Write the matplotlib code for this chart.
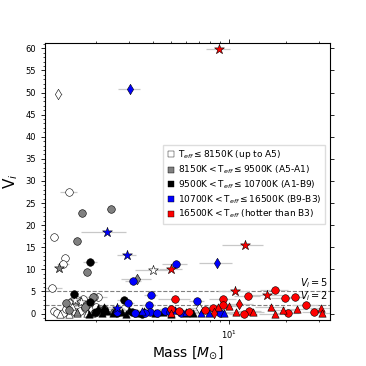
import numpy as np
import matplotlib.pyplot as plt
from matplotlib.lines import Line2D

# class 0: Teff <= 8150K (white)
c0_mass = [1.45, 1.21, 1.38, 1.35, 1.18, 2.05, 1.95, 1.72, 1.60, 1.50, 1.45, 1.20, 1.25, 1.35,
           1.55, 1.65, 1.75, 1.90, 2.00, 1.40, 1.30, 1.45, 1.60, 1.80, 1.50, 4.0, 1.55, 1.68, 1.27, 7.0]
c0_v = [27.5, 17.2, 12.5, 11.1, 5.8, 3.7, 3.7, 3.2, 3.0, 2.9, 2.3, 0.5, 0.1, 0.2,
        0.3, 0.6, 1.2, 0.8, 1.5, 1.0, 0.0, -0.1, 0.1, 0.2, 1.7, 9.8, 3.1, 2.6, 49.6, 1.2]
c0_err = [0.15, 0.05, 0.05, 0.1, 0.15, 0.25, 0.15, 0.1, 0.1, 0.1, 0.1, 0.05, 0.05, 0.05,
          0.05, 0.05, 0.1, 0.1, 0.1, 0.05, 0.05, 0.05, 0.05, 0.1, 0.1, 0.8, 0.1, 0.1, 0.05, 0.8]
c0_mk = ['o'] * 20 + ['^'] * 5 + ['*'] * 3 + ['d'] * 2

# class 1: 8150K < Teff <= 9500K (grey)
c1_mass = [1.69, 2.40, 1.60, 1.79, 1.94, 1.39, 1.45, 1.75, 2.20, 2.50, 1.28, 3.30, 1.60, 1.90]
c1_v = [22.8, 23.6, 16.3, 9.3, 3.7, 2.3, 0.7, 1.5, 1.0, 0.3, 10.2, 7.9, 0.3, 0.2]
c1_err = [0.05, 0.1, 0.05, 0.05, 0.1, 0.05, 0.05, 0.1, 0.1, 0.1, 0.05, 0.6, 0.05, 0.1]
c1_mk = ['o'] * 10 + ['*', 'd', '^', '^']

# class 2: 9500K < Teff <= 10700K (black)
c2_mass = [1.87, 1.54, 2.80, 1.87, 2.20, 2.60, 3.10, 3.50, 2.00,
           1.85, 1.95, 2.05, 2.15, 2.30, 2.45, 2.55, 2.75, 2.90, 3.00, 3.30, 3.60, 4.10,
           4.50, 5.00, 2.20, 6.00, 6.50]
c2_v = [11.7, 4.5, 3.1, 2.5, 0.6, 0.2, 0.3, 0.0, 0.3,
        0.0, 0.4, 1.2, 0.2, 0.6, 0.1, 1.0, 0.3, 0.0, 0.8, 0.2, 0.5, 0.1,
        0.3, 0.0, 1.5, 0.2, 0.1]
c2_err = [0.15, 0.05, 0.2, 0.1, 0.2, 0.2, 0.3, 0.3, 0.2,
          0.2, 0.2, 0.2, 0.3, 0.3, 0.3, 0.3, 0.4, 0.4, 0.4, 0.5, 0.5, 0.6,
          0.6, 0.7, 0.2, 0.8, 0.8]
c2_mk = ['o'] * 9 + ['^'] * 18

# class 3: 10700K < Teff <= 16500K (blue)
c3_mass = [3.01, 8.67, 2.28, 2.92, 2.60,
           5.27, 3.15, 3.90, 6.80, 3.80, 2.97, 2.59, 3.86, 4.20, 4.63, 3.63, 9.00, 5.60, 3.20, 4.90,
           6.00, 7.20, 7.90, 9.50, 3.50, 5.20]
c3_v = [50.7, 11.4, 18.5, 13.2, 1.3,
        11.2, 7.3, 4.1, 2.9, 2.0, 2.4, 0.45, 0.45, 0.1, 0.6, 0.1, 0.1, 0.2, 0.2, 0.3,
        0.45, 0.2, 0.15, 0.15, 0.6, 0.9]
c3_err = [0.4, 1.7, 0.6, 0.35, 0.2,
          0.8, 0.3, 0.3, 0.6, 0.3, 0.2, 0.2, 0.3, 0.4, 0.5, 0.3, 1.0, 0.6, 0.3, 0.5,
          0.7, 0.8, 0.9, 1.0, 0.3, 0.6]
c3_mk = ['d', 'd', '*', '*', '*'] + ['o'] * 15 + ['^'] * 6

# class 4: 16500K < Teff (red)
c4_mass = [8.9, 12.2, 4.98, 10.8, 16.0,
           17.6, 12.7, 19.8, 22.3, 25.7, 9.4, 9.4, 5.25, 8.3, 7.5, 12.8, 12.1, 20.6, 28.3,
           4.98, 6.2, 5.5,
           16.8, 17.5, 19.4, 23.0, 30.8, 30.9, 13.4, 11.0, 10.0, 8.8, 4.98,
           11.4, 8.4]
c4_v = [59.8, 15.5, 10.1, 5.0, 4.2,
        5.4, 4.0, 3.6, 3.8, 2.0, 3.2, 2.0, 3.3, 1.3, 0.7, 0.6, 0.0, 0.15, 0.45,
        1.0, 0.4, 0.5,
        1.5, 0.0, 0.8, 1.1, 1.2, 0.2, 0.3, 0.3, 1.8, 1.5, 0.1,
        2.2, 0.2]
c4_err = [1.3, 3.0, 0.7, 2.0, 3.0,
          3.0, 2.0, 3.0, 3.0, 4.0, 1.5, 1.5, 1.0, 1.0, 1.0, 2.0, 2.0, 3.0, 4.0,
          0.7, 1.0, 0.8,
          3.0, 3.0, 3.0, 3.0, 4.0, 4.0, 2.0, 1.5, 1.5, 1.2, 0.7,
          2.0, 1.2]
c4_mk = ['*'] * 5 + ['o'] * 17 + ['^'] * 11 + ['d'] * 2

classes = [
    (c0_mass, c0_v, c0_err, c0_mk, 'white', r'T$_{eff}\leq$8150K (up to A5)'),
    (c1_mass, c1_v, c1_err, c1_mk, 'grey', r'8150K$<$T$_{eff}\leq$9500K (A5-A1)'),
    (c2_mass, c2_v, c2_err, c2_mk, 'black', r'9500K$<$T$_{eff}\leq$10700K (A1-B9)'),
    (c3_mass, c3_v, c3_err, c3_mk, 'blue', r'10700K$<$T$_{eff}\leq$16500K (B9-B3)'),
    (c4_mass, c4_v, c4_err, c4_mk, 'red', r'16500K$<$T$_{eff}$ (hotter than B3)'),
]
sizes = {'o': 30, '^': 28, '*': 55, 'd': 28}

fig = plt.figure(figsize=(3.66, 3.66), dpi=100)
ax = fig.add_axes([0.123, 0.1265, 0.778, 0.756])

# error bars first
for m, v, e, mk, col, lab in classes:
    ax.errorbar(m, v, xerr=e, fmt='none', ecolor='#c8c8c8', elinewidth=0.9, zorder=1)

for m, v, e, mk, col, lab in classes:
    m = np.array(m); v = np.array(v); mk = np.array(mk)
    for s in ['o', '^', '*', 'd']:
        sel = mk == s
        if sel.any():
            ax.scatter(m[sel], v[sel], marker=s, s=sizes[s], c=col,
                       edgecolors='black', linewidths=0.4, zorder=3)

ax.axhline(5, color='grey', ls='--', lw=0.8, zorder=0)
ax.axhline(2, color='grey', ls='--', lw=0.8, zorder=0)
ax.text(33.5, 5.3, r'$V_i=5$', ha='right', va='bottom', fontsize=7)
ax.text(33.5, 2.3, r'$V_i=2$', ha='right', va='bottom', fontsize=7)

ax.set_xscale('log')
ax.set_xlim(1.08, 34.1)
ax.set_ylim(-1.4, 61.2)
ax.set_yticks(np.arange(0, 61, 5))
ax.set_yticks(np.arange(-1, 62, 1), minor=True)
ax.tick_params(which='major', length=3, width=0.6, labelsize=6, top=True, right=True)
ax.tick_params(which='minor', length=1.5, width=0.5, top=True)
ax.tick_params(axis='y', which='minor', right=False)
for sp in ax.spines.values():
    sp.set_linewidth(0.8)

ax.set_xlabel(r'Mass [$M_{\odot}$]', fontsize=10, labelpad=2)
ax.set_ylabel(r'V$_i$', fontsize=11)

handles = [Line2D([], [], ls='none', marker='s', markersize=4.5, markerfacecolor=c[4],
                  markeredgecolor='black', markeredgewidth=0.3) for c in classes]
ax.legend(handles, [c[5] for c in classes], loc='upper right', bbox_to_anchor=(0.983, 0.632),
          borderaxespad=0, fontsize=6.5, handlelength=0.8, handletextpad=0.4,
          labelspacing=0.25, borderpad=0.4, framealpha=1, fancybox=False, edgecolor='#dddddd')

fig.savefig('out.png', dpi=100)
